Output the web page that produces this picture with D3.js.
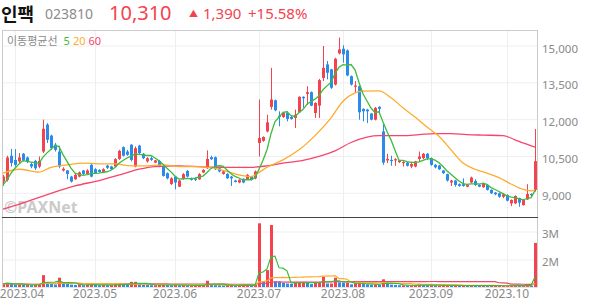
<!DOCTYPE html>
<html>
<head>
<meta charset="utf-8">
<script src="https://cdn.jsdelivr.net/npm/d3@7"></script>
<style>
  body { margin: 0; background: #fff; }
  text { font-family: 'Noto Sans', 'Noto Sans CJK KR', sans-serif; }
</style>
</head>
<body>
<div id="chart"></div>
<script>
// daily candles, 2023.03.29 ~ 2023.10.16 (trading-day index)
var open = [9480, 9550, 10530, 10360, 10300, 10610, 10460, 10190, 10320, 10090,
  10700, 11800, 11350, 10980, 10700, 9930, 9930, 9680, 9570, 9680,
  9930, 9790, 10160, 9980, 9950, 9850, 10130, 10090, 10090, 10400,
  10880, 10700, 10980, 10090, 10940, 10610, 10300, 10430, 10250, 10320,
  10090, 9820, 9380, 9680, 9270, 9590, 9910, 9610, 9610, 9570,
  9850, 10020, 10470, 10470, 10020, 9790, 9790, 9680, 9520, 9440,
  9590, 9570, 9680, 9610, 11050, 11140, 11520,
  12520, 12790, 12160, 12110, 12270, 12110, 12070, 12300, 12930, 13050,
  13120, 12270, 12570, 13700, 14250, 14050, 13430, 14700, 14890, 14820,
  13770, 13340, 13360, 12440, 12410, 12250, 12000, 12520, 11520, 10340,
  10360, 10340, 10270, 10230, 10250, 10090, 10090, 10400, 10430, 10610,
  10430, 10160, 10130, 9930, 9780, 9440, 9520, 9370, 9370, 9270,
  9440, 9500, 9340, 9250, 9340, 9140, 9030, 9000, 8860, 8930,
  8590, 8590, 8800, 8520, 8750, 8970, 9140]
var high = [9750, 10530, 10810, 10800, 10640, 10640, 10500, 10250, 10360, 10500,
  12000, 11860, 11390, 11050, 10940, 10060, 9950, 9710, 9790, 9890,
  9950, 9980, 10230, 10020, 9980, 10020, 10160, 10120, 10430, 10770,
  10910, 10770, 11000, 10910, 10980, 10640, 10470, 10500, 10360, 10360,
  10120, 9850, 9650, 9710, 9550, 9820, 9950, 9640, 9640, 9820,
  9980, 10750, 10530, 10500, 10050, 9930, 9820, 9710, 9550, 9570,
  9610, 9790, 9710, 9930, 12820, 11320, 12200,
  14110, 12820, 12340, 12300, 12340, 12160, 12410, 12950, 12950, 13360,
  13150, 12710, 13660, 15000, 14390, 14070, 14520, 15340, 15030, 14860,
  13800, 13570, 13390, 12460, 12440, 12270, 12520, 12550, 11800, 10610,
  10530, 10430, 10360, 10310, 10280, 10230, 10320, 10700, 10640, 10640,
  10460, 10190, 10160, 9950, 9800, 9550, 9550, 9400, 9610, 9370,
  9680, 9570, 9370, 9440, 9370, 9160, 9050, 9030, 9000, 8960,
  8750, 8920, 8820, 8750, 9370, 9000, 11620]
var low = [9300, 9480, 10090, 10090, 10230, 10300, 10230, 10020, 9950, 10020,
  10640, 11050, 10770, 10700, 10020, 9890, 9570, 9440, 9550, 9650,
  9750, 9750, 9650, 9790, 9850, 9820, 9990, 9950, 10060, 10360,
  10500, 10530, 10300, 10060, 10570, 10390, 10250, 10320, 10230, 10060,
  9680, 9570, 9340, 9160, 9250, 9550, 9650, 9520, 9500, 9550,
  9820, 10000, 10360, 9950, 9850, 9760, 9590, 9300, 9440, 9410,
  9410, 9550, 9520, 9570, 10500, 11100, 11480,
  12410, 12340, 11730, 12070, 11930, 12000, 11660, 12270, 12480, 12610,
  12550, 12070, 12070, 13570, 13640, 13250, 13390, 14660, 14320, 13770,
  13390, 13090, 12000, 11930, 11860, 11970, 11970, 12270, 10160, 10230,
  10120, 10120, 10230, 10090, 10090, 10020, 10060, 10300, 10390, 10360,
  10120, 10020, 9950, 9790, 9480, 9300, 9270, 9270, 9270, 9250,
  9410, 9300, 9250, 9220, 9110, 8970, 8920, 8820, 8800, 8670,
  8480, 8560, 8450, 8500, 8730, 8880, 9070]
var close = [9680, 10460, 10230, 10160, 10460, 10360, 10300, 10090, 10020, 10320,
  11630, 11180, 10840, 10770, 10090, 10000, 9790, 9480, 9750, 9850,
  9790, 9930, 9680, 9820, 9870, 9980, 10040, 9980, 10390, 10730,
  10530, 10570, 10360, 10840, 10640, 10430, 10430, 10360, 10340, 10090,
  9710, 9610, 9610, 9440, 9520, 9780, 9680, 9550, 9550, 9780,
  9950, 10400, 10390, 9980, 9890, 9890, 9610, 9610, 9460, 9550,
  9440, 9750, 9550, 9890, 11250, 11290, 11890,
  12820, 12380, 12110, 12270, 12030, 12030, 12200, 12930, 12870, 13120,
  12570, 12680, 13610, 14110, 13910, 13300, 14480, 14860, 14660, 13800,
  13430, 13390, 12300, 12340, 12340, 12000, 12480, 12440, 10250, 10400,
  10310, 10390, 10340, 10280, 10120, 10190, 10300, 10500, 10610, 10430,
  10160, 10060, 9980, 9820, 9520, 9520, 9340, 9300, 9300, 9340,
  9640, 9340, 9270, 9410, 9140, 9000, 8960, 8860, 8960, 8700,
  8730, 8890, 8620, 8730, 8970, 8920, 10310]
// volume, thousand shares
var volume = [1150, 1180, 1140, 1120, 1130, 1110, 1120, 1100, 1110, 1140,
  1460, 1180, 1140, 1120, 1370, 1200, 1140, 1120, 1110, 1130,
  1100, 1120, 1130, 1110, 1100, 1110, 1100, 1110, 1130, 1150,
  1130, 1120, 1220, 1220, 1150, 1120, 1110, 1100, 1100, 1110,
  1120, 1110, 1100, 1110, 1100, 1100, 1090, 1090, 1090, 1100,
  1100, 1260, 1120, 1110, 1100, 1090, 1100, 1110, 1090, 1090,
  1090, 1100, 1090, 1110, 3310, 1250, 1640,
  3250, 1240, 1230, 1180, 1160, 1150, 1200, 1210, 1220, 1180,
  1140, 1200, 1200, 1400, 1160, 1160, 1370, 1200, 1190, 1190,
  1130, 1170, 1170, 1140, 1130, 1120, 1130, 1110, 1310, 1150,
  1120, 1110, 1100, 1100, 1090, 1090, 1100, 1120, 1110, 1100,
  1100, 1090, 1090, 1090, 1100, 1090, 1090, 1080, 1090, 1080,
  1100, 1090, 1080, 1090, 1080, 1080, 1080, 1080, 1080, 1080,
  1080, 1090, 1080, 1080, 1100, 1080, 2610]

// first four 5-day averages (window reaches before the chart)
var ma5Lead = [9340, 9550, 9820, 10020]
// 20-day and 60-day averages: [day index, value]
var ma20 = [[0, 9820], [4, 9980], [9, 9860], [12, 10060], [16, 10160], [20, 10230], [24, 10200],
  [28, 10200], [32, 10120], [36, 10120], [40, 10160], [44, 10090], [48, 10090], [52, 10050],
  [56, 9890], [60, 9720], [62, 9680], [64, 9850], [66, 10060], [70, 10360], [74, 10770],
  [78, 11350], [82, 12070], [85, 12750], [88, 13090], [90, 13160], [94, 13170], [97, 12890],
  [100, 12480], [103, 12110], [106, 11700], [109, 11320], [112, 10770], [115, 10230],
  [118, 9980], [121, 9820], [124, 9640], [127, 9380], [130, 9160], [132, 9100], [133, 9140]]
var ma60 = [[0, 8350], [6, 8660], [12, 9000], [18, 9300], [24, 9520], [30, 9790], [34, 9980],
  [38, 10090], [44, 10120], [50, 10080], [56, 10060], [62, 10060], [66, 10120], [70, 10230],
  [75, 10340], [79, 10500], [83, 10730], [87, 11070], [91, 11290], [94, 11350], [100, 11350],
  [104, 11390], [108, 11430], [112, 11430], [116, 11390], [120, 11370], [125, 11350],
  [128, 11180], [130, 11050], [133, 10880]]

var priceTicks = [9000, 10500, 12000, 13500, 15000]
var volTicks = [2000, 3000]
var monthIdx = [3, 23, 43, 64, 85, 107, 126]
var monthLabels = ['2023.04', '2023.05', '2023.06', '2023.07', '2023.08', '2023.09', '2023.10']

var COLOR = {
  UP: '#f4424e',
  DOWN: '#2a8bea',
  MA5: '#3dbb3d',
  MA20: '#ffab2e',
  MA60: '#f6456a',
  GRID: '#efefef',
  BORDER: '#cccccc',
  TEXT: '#8a8a8a'
}

var width = 594
var height = 304
var left = 2
var right = 537
var pTop = 30
var pBottom = 217
var vBottom = 287

var svg = d3
  .select('#chart')
  .append('svg')
  .attr('width', width)
  .attr('height', height)

var x = d3.scaleLinear().domain([0, close.length - 1]).range([3, 535])
var y = d3.scaleLinear().domain([9000, 15000]).range([193.3, 46])
var yv = d3.scaleLinear().domain([2000, 3000]).range([260, 232])

// header
var head = svg.append('g')
head.append('text').attr('x', 1).attr('y', 21).attr('font-size', 18).attr('font-weight', 'bold')
  .attr('fill', '#111').attr('font-family', "'Noto Sans CJK KR', sans-serif").text('인팩')
head.append('text').attr('x', 45).attr('y', 19).attr('font-size', 14).attr('fill', '#8c8c8c')
  .attr('font-family', 'Roboto, sans-serif').text('023810')
head.append('text').attr('x', 109).attr('y', 20).attr('font-size', 20).attr('fill', COLOR.UP)
  .attr('font-family', 'Roboto, sans-serif').text('10,310')
head.append('text').attr('x', 189).attr('y', 17).attr('font-size', 9).attr('fill', COLOR.UP).text('▲')
head.append('text').attr('x', 203).attr('y', 19).attr('font-size', 15).attr('fill', COLOR.UP)
  .attr('font-family', 'Roboto, sans-serif').text('1,390')
head.append('text').attr('x', 248).attr('y', 19).attr('font-size', 15).attr('fill', COLOR.UP)
  .attr('font-family', 'Roboto, sans-serif').text('+15.58%')

// grid
var grid = svg.append('g')
grid.selectAll('.hg').data(priceTicks).enter().append('line')
  .attr('x1', left).attr('x2', right).attr('y1', d => y(d)).attr('y2', d => y(d))
  .attr('stroke', COLOR.GRID)
grid.selectAll('.vhg').data(volTicks).enter().append('line')
  .attr('x1', left).attr('x2', right).attr('y1', d => yv(d)).attr('y2', d => yv(d))
  .attr('stroke', COLOR.GRID)
grid.selectAll('.vg').data(monthIdx).enter().append('line')
  .attr('x1', d => Math.round(x(d)) + 0.5).attr('x2', d => Math.round(x(d)) + 0.5)
  .attr('y1', pTop).attr('y2', vBottom)
  .attr('stroke', COLOR.GRID)

// watermark
svg.append('text').attr('x', 4).attr('y', 213).attr('font-size', 16).attr('font-weight', 'bold')
  .attr('fill', '#cbcbcb').text('©PAXNet')

// clip regions
var defs = svg.append('defs')
defs.append('clipPath').attr('id', 'clipPrice').append('rect')
  .attr('x', left).attr('y', pTop).attr('width', right - left).attr('height', pBottom - pTop)
defs.append('clipPath').attr('id', 'clipVol').append('rect')
  .attr('x', left).attr('y', pBottom).attr('width', right - left).attr('height', vBottom - pBottom)

var days = d3.range(close.length)

// candles
var price = svg.append('g').attr('clip-path', 'url(#clipPrice)')
var candle = price.selectAll('.candle').data(days).enter().append('g')
candle.append('line')
  .attr('x1', i => Math.round(x(i)) + 0.5).attr('x2', i => Math.round(x(i)) + 0.5)
  .attr('y1', i => y(high[i])).attr('y2', i => y(low[i]))
  .attr('stroke', i => close[i] >= open[i] ? COLOR.UP : COLOR.DOWN)
candle.append('rect')
  .attr('x', i => Math.round(x(i)) - 1)
  .attr('width', 3)
  .attr('y', i => y(Math.max(open[i], close[i])))
  .attr('height', i => Math.max(1, Math.abs(y(open[i]) - y(close[i]))))
  .attr('fill', i => close[i] >= open[i] ? COLOR.UP : COLOR.DOWN)

// moving averages
var ma5 = days.map(i => i < 4 ? ma5Lead[i] : d3.mean(close.slice(i - 4, i + 1)))
var line = d3.line().x(d => x(d[0])).y(d => y(d[1]))
price.append('path').datum(ma60).attr('d', line.curve(d3.curveMonotoneX))
  .attr('fill', 'none').attr('stroke', COLOR.MA60).attr('stroke-width', 1.3)
price.append('path').datum(ma20).attr('d', line.curve(d3.curveMonotoneX))
  .attr('fill', 'none').attr('stroke', COLOR.MA20).attr('stroke-width', 1.3)
price.append('path').datum(days.map(i => [i, ma5[i]])).attr('d', line.curve(d3.curveLinear))
  .attr('fill', 'none').attr('stroke', COLOR.MA5).attr('stroke-width', 1.3)

// volume
var vol = svg.append('g').attr('clip-path', 'url(#clipVol)')
vol.selectAll('.vbar').data(days).enter().append('rect')
  .attr('x', i => Math.round(x(i)) - 1)
  .attr('width', 3)
  .attr('y', i => yv(volume[i]))
  .attr('height', i => Math.max(0, vBottom - yv(volume[i])))
  .attr('fill', i => i === 0 || volume[i] >= volume[i - 1] ? COLOR.UP : COLOR.DOWN)

function movingAvg (arr, n) {
  return arr.map((v, i) => d3.mean(arr.slice(Math.max(0, i - n + 1), i + 1)))
}
var vline = d3.line().x((d, i) => x(i)).y(d => yv(d))
;[[60, COLOR.MA60], [20, COLOR.MA20], [5, COLOR.MA5]].forEach(m => {
  vol.append('path').datum(movingAvg(volume, m[0])).attr('d', vline)
    .attr('fill', 'none').attr('stroke', m[1]).attr('stroke-width', 1.2)
})

// frames
svg.append('line').attr('x1', left).attr('x2', right).attr('y1', pTop + 0.5).attr('y2', pTop + 0.5)
  .attr('stroke', COLOR.BORDER)
svg.append('line').attr('x1', left + 0.5).attr('x2', left + 0.5).attr('y1', pTop).attr('y2', vBottom)
  .attr('stroke', COLOR.BORDER)
svg.append('line').attr('x1', right + 0.5).attr('x2', right + 0.5).attr('y1', pTop).attr('y2', vBottom)
  .attr('stroke', COLOR.BORDER)
svg.append('line').attr('x1', left).attr('x2', right + 1).attr('y1', pBottom + 0.5).attr('y2', pBottom + 0.5)
  .attr('stroke', '#444')
svg.append('line').attr('x1', left).attr('x2', right + 1).attr('y1', vBottom + 0.5).attr('y2', vBottom + 0.5)
  .attr('stroke', '#e4e4e4')

// legend
var legend = svg.append('text').attr('x', 7).attr('y', 45).attr('font-size', 11)
legend.append('tspan').attr('fill', '#8a8a8a').attr('font-family', "'Noto Sans CJK KR', sans-serif").text('이동평균선')
legend.append('tspan').attr('dx', 6).attr('fill', COLOR.MA5).text('5')
legend.append('tspan').attr('dx', 3).attr('fill', COLOR.MA20).text('20')
legend.append('tspan').attr('dx', 3).attr('fill', COLOR.MA60).text('60')

// axes labels
svg.selectAll('.plab').data(priceTicks).enter().append('text')
  .attr('x', 542).attr('y', d => y(d) + 6.5).attr('font-size', 11.5).attr('fill', COLOR.TEXT)
  .text(d => d3.format(',')(d))
svg.selectAll('.vlab').data(volTicks).enter().append('text')
  .attr('x', 542).attr('y', d => yv(d) + 5.5).attr('font-size', 11.5).attr('fill', COLOR.TEXT)
  .text(d => d / 1000 + 'M')
svg.selectAll('.dlab').data(monthIdx).enter().append('text')
  .attr('x', (d, i) => Math.max(22, x(d))).attr('y', 298).attr('text-anchor', 'middle')
  .attr('font-size', 12).attr('fill', COLOR.TEXT)
  .text((d, i) => monthLabels[i])
</script>
</body>
</html>
